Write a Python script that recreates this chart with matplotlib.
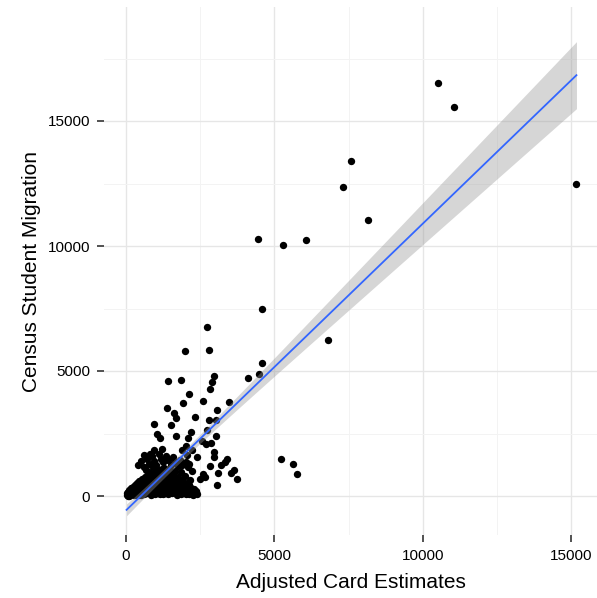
import numpy as np
import matplotlib.pyplot as plt

# points (card estimate, census migration)
outer_x = [10525, 11044, 15172, 7586, 7320, 8158, 4455, 5296, 6047, 4589,
           6788, 4566, 4118, 4488, 5219, 5623, 5744, 2737, 1997, 2788,
           2950, 2896, 2815, 2131, 2586, 3468, 3074, 2316, 2805, 3040,
           1414, 1862, 1929, 1374, 1626, 1677, 1502, 960, 1044, 1138,
           1683, 2074, 2189, 2727, 2704, 3024, 2862, 2569, 2020, 2222,
           2391, 2963, 2973, 3401, 3343, 3209, 3623, 3545, 3737, 2828,
           3098, 2579, 2670, 2502, 3051, 2131, 2165, 2108, 2367, 2108,
           943, 1222, 606, 795, 1896, 2064, 2027, 2088, 2233, 2054, 2165]
outer_y = [16508, 15576, 12496, 13388, 12348, 11028, 10296, 10028, 10240, 7468,
           6256, 5308, 4708, 4868, 1468, 1268, 896, 6748, 5808, 5856,
           4816, 4560, 4280, 4088, 3800, 3748, 3440, 3176, 3048, 3028,
           4616, 4640, 3728, 3508, 3308, 3128, 2856, 2868, 2468, 2328,
           2388, 2320, 2560, 2628, 2096, 2388, 2136, 2188, 2016, 1828,
           1560, 1760, 1560, 1496, 1360, 1228, 1056, 936, 680, 1200,
           936, 896, 760, 696, 456, 1296, 628, 428, 200, 160,
           1828, 1868, 1628, 1696, 1828, 1628, 1360, 1160, 1000, 496, 360]

# the dense blob near the origin
blob_x = [20, 45, 60, 80, 95, 110, 130, 150, 170, 185, 200, 220, 240, 255, 270,
          290, 305, 320, 340, 360, 375, 390, 410, 425, 440, 460, 475, 490, 510,
          530, 545, 560, 580, 600, 615, 630, 650, 665, 680, 700, 720, 735, 750,
          770, 790, 805, 820, 840, 860, 875, 890, 910, 930, 950, 965, 985, 1000,
          1020, 1040, 1060, 1075, 1090, 1110, 1130, 1150, 1170, 1190, 1210, 1230,
          1250, 1270, 1290, 1310, 1330, 1350, 1370, 1390, 1410, 1440, 1460, 1480,
          1500, 1520, 1540, 1560, 1590, 1610, 1630, 1650, 1670, 1700, 1720, 1750,
          1780, 1800, 1820, 1850, 1870, 1900, 1930, 1960, 1990, 2020, 2060, 2100,
          2150, 2200, 2250, 2300, 2350,
          420, 520, 600, 700, 780, 860, 940, 1020, 1100, 1180, 1260, 1340, 1420,
          1500, 1580, 1660, 1740, 1820, 1900, 680, 900, 1200, 1450, 1650, 1850, 2000,
          55, 100, 140, 160, 210, 230, 280, 300, 350, 370, 420, 445, 500, 520,
          540, 590, 610, 660, 690, 710, 740, 760, 780, 810, 830, 850, 880, 900,
          920, 960, 980, 1010, 1050, 1080, 1100, 1140, 1160, 1180, 1220, 1240,
          1280, 1300, 1320, 1360, 1380, 1420, 1460, 1490, 1530, 1550, 1600, 1620,
          1680, 1710, 1760, 1790, 1830, 1880, 1920, 1970, 2040, 2120, 2180, 2280, 2400]
blob_y = [40, 110, 20, 180, 70, 260, 140, 30, 320, 200, 90, 380, 260, 150, 50,
          440, 310, 200, 100, 520, 380, 260, 160, 60, 600, 450, 330, 220, 120,
          680, 540, 410, 290, 170, 70, 760, 600, 470, 350, 230, 120, 840, 690,
          540, 400, 280, 150, 60, 900, 740, 600, 460, 330, 200, 90, 980, 800,
          650, 520, 380, 250, 130, 1050, 880, 700, 560, 420, 290, 160,
          70, 1120, 940, 760, 600, 450, 310, 180, 90, 1000, 820, 650,
          500, 360, 220, 110, 900, 720, 560, 420, 270, 150, 60, 780,
          600, 450, 310, 190, 90, 640, 480, 340, 210, 100, 520, 380,
          250, 130, 60, 300, 180,
          1250, 1400, 1150, 1500, 1300, 1600, 1420, 1250, 1700, 1500, 1350, 1600, 1450,
          1250, 1550, 1380, 1200, 1450, 1250, 1050, 1150, 1100, 1100, 1000, 950, 800,
          60, 20, 200, 90, 250, 130, 350, 60, 290, 140, 420, 210, 520, 40,
          300, 480, 250, 390, 120, 620, 440, 200, 960, 700, 350, 100, 520, 250,
          820, 640, 380, 160, 900, 450, 240, 620, 100, 820, 400, 200,
          540, 320, 120, 760, 420, 250, 560, 140, 700, 380, 200, 460,
          620, 320, 160, 400, 560, 250, 120, 420, 200, 90, 300, 120, 80]

x_ticks = [0, 5000, 10000, 15000]
y_ticks = [0, 5000, 10000, 15000]


def lm_band(x, y, xs, t=1.97):
    # straight line fit with a 95% band, like geom_smooth(method='lm')
    b, a = np.polyfit(x, y, 1)
    n = len(x)
    resid = y - (a + b * x)
    s = np.sqrt(np.sum(resid ** 2) / (n - 2))
    sxx = np.sum((x - x.mean()) ** 2)
    se = s * np.sqrt(1 / n + (xs - x.mean()) ** 2 / sxx)
    fit = a + b * xs
    return fit, fit - t * se, fit + t * se


def main():
    plt.rcParams['font.family'] = ['Liberation Sans', 'DejaVu Sans']

    x = np.array(outer_x + blob_x, dtype=float)
    y = np.array(outer_y + blob_y, dtype=float)

    fig = plt.figure(figsize=(5.97, 5.98), dpi=100)
    ax = fig.add_axes([104 / 597, 63 / 598, 493 / 597, 528 / 598])

    ax.scatter(x, y, s=28, color='black', linewidths=0, zorder=2)

    xs = np.linspace(x.min(), x.max(), 80)
    fit, lo, hi = lm_band(x, y, xs)
    ax.fill_between(xs, lo, hi, color='#999999', alpha=0.4, linewidth=0, zorder=3)
    ax.plot(xs, fit, color='#3366FF', lw=1.3, zorder=4)

    ax.set_xlim(-740, 15864)
    ax.set_ylim(-1560, 19560)
    ax.set_xticks(x_ticks)
    ax.set_yticks(y_ticks)
    ax.set_xticks([2500, 7500, 12500], minor=True)
    ax.set_yticks([2500, 7500, 12500, 17500], minor=True)
    ax.grid(True, which='major', color='#e6e6e6', lw=1.0, zorder=0)
    ax.grid(True, which='minor', color='#f3f3f3', lw=0.7, zorder=0)
    ax.set_axisbelow(True)
    for sp in ax.spines.values():
        sp.set_visible(False)

    ax.tick_params(which='major', length=5, width=1.2, color='#333333',
                   labelsize=11, labelcolor='black', pad=5)
    ax.tick_params(which='minor', length=0)

    ax.set_xlabel('Adjusted Card Estimates', fontsize=15, labelpad=7)
    ax.set_ylabel('Census Student Migration', fontsize=15, labelpad=5)

    fig.savefig('out.png', dpi=100)
    plt.close()


if __name__ == "__main__":
    main()
